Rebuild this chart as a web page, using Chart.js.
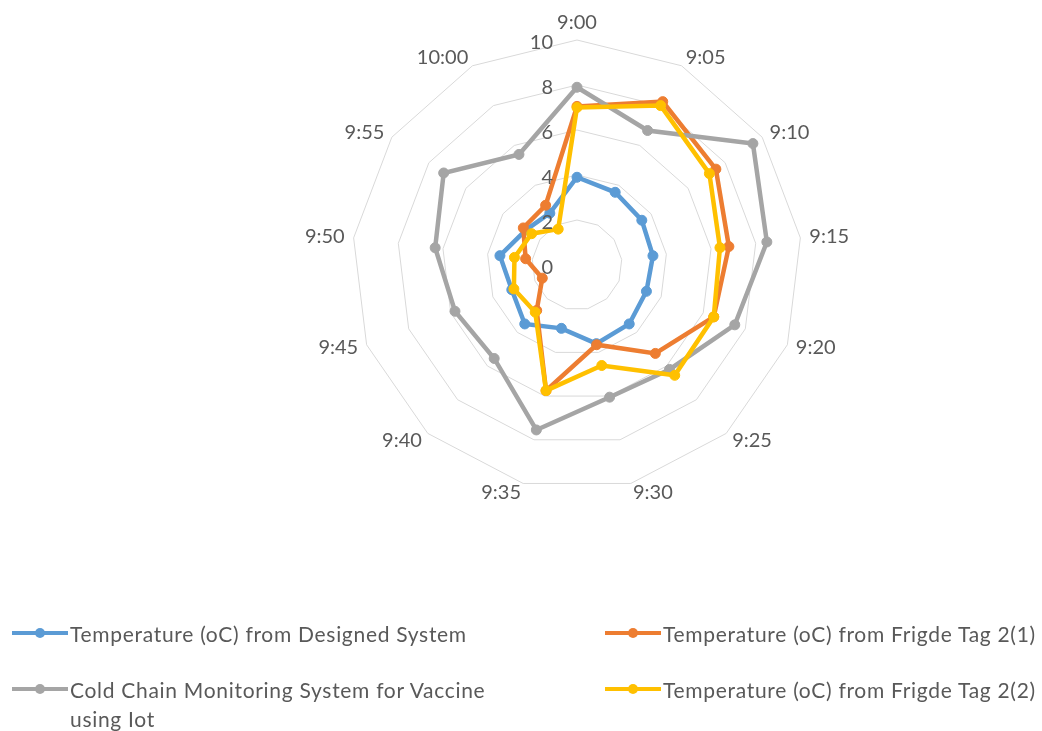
<!DOCTYPE html>
<html>
<head>
<meta charset="utf-8">
<script src="https://cdn.jsdelivr.net/npm/chart.js@4.4.0/dist/chart.umd.min.js"></script>
<style>
  body { margin: 0; background: #fff; }
  #wrap { position: relative; width: 1042px; height: 731px; overflow: hidden; }
  #chart { position: absolute; left: 0; top: 0; }
  .leg { position: absolute; font-family: Lato, sans-serif; font-size: 21px; letter-spacing: 0.7px; color: #595959; line-height: 29px; }
  .leg .mk { position: absolute; left: 0; top: 12px; width: 56px; height: 4px; }
  .leg .dot { position: absolute; left: 23px; top: 9px; width: 10px; height: 10px; border-radius: 50%; }
  .leg .tx { position: absolute; left: 58px; top: 0; white-space: nowrap; }
</style>
</head>
<body>
<div id="wrap">
  <canvas id="chart" width="1042" height="731"></canvas>
  <div id="legend"></div>
</div>
<script>
const labels = ["9:00","9:05","9:10","9:15","9:20","9:25","9:30","9:35","9:40","9:45","9:50","9:55","10:00"];

const designedSystem = [3.9, 3.65, 3.5, 3.4, 3.3, 3.5, 3.6, 2.9, 3.5, 3.1, 3.45, 2.75, 2.6];
const fridgeTag1 = [7.05, 8.2, 7.5, 6.8, 6.5, 5.25, 3.65, 5.75, 2.7, 1.65, 2.3, 2.9, 3.0];
const coldChain = [7.9, 6.75, 9.5, 8.5, 7.5, 6.2, 6.05, 7.55, 5.55, 5.8, 6.35, 7.2, 5.55];
const fridgeTag2 = [7.0, 8.0, 7.15, 6.4, 6.5, 6.55, 4.6, 5.75, 2.8, 3.0, 2.8, 2.45, 1.8];

const tickValues = [0, 2, 4, 6, 8, 10];

const seriesNames = [
  "Temperature (oC) from Designed System",
  "Temperature (oC) from Frigde Tag 2(1)",
  "Cold Chain Monitoring System for Vaccine<br>using Iot",
  "Temperature (oC) from Frigde Tag 2(2)"
];
const colors = ["#5B9BD5", "#ED7D31", "#A5A5A5", "#FFC000"];

function series(data, i, order) {
  return {
    label: seriesNames[i].replace("<br>", " "),
    data: data,
    borderColor: colors[i],
    backgroundColor: colors[i],
    pointBackgroundColor: colors[i],
    pointBorderColor: colors[i],
    borderWidth: 4.5,
    pointRadius: 5,
    pointBorderWidth: 1,
    fill: false,
    tension: 0,
    order: order
  };
}

// tick numbers left of the vertical axis and Excel-style category labels
const axisText = {
  id: "axisText",
  afterDatasetsDraw(chart) {
    const s = chart.scales.r;
    const ctx = chart.ctx;
    ctx.save();
    ctx.font = "20px Lato";
    ctx.fillStyle = "#595959";
    ctx.textAlign = "right";
    ctx.textBaseline = "middle";
    tickValues.forEach(v => {
      const y = s.yCenter - s.getDistanceFromCenterForValue(v);
      ctx.fillText(String(v), s.xCenter - 24, y + 3);
    });

    labels.forEach((lab, i) => {
      const p = s.getPointPosition(i, s.drawingArea + 9);
      const dx = p.x - s.xCenter;
      if (Math.abs(dx) < 1) {
        ctx.textAlign = "center";
        ctx.textBaseline = "bottom";
        ctx.fillText(lab, p.x, p.y + 2);
      } else {
        ctx.textAlign = dx > 0 ? "left" : "right";
        ctx.textBaseline = "middle";
        ctx.fillText(lab, p.x, p.y);
      }
    });
    ctx.restore();
  }
};

new Chart(document.getElementById("chart").getContext("2d"), {
  type: "radar",
  data: {
    labels,
    datasets: [
      series(designedSystem, 0, 3),
      series(fridgeTag1, 1, 2),
      series(coldChain, 2, 1),
      series(fridgeTag2, 3, 0)
    ]
  },
  options: {
    responsive: false,
    animation: false,
    layout: { padding: { left: 352, right: 240, top: 40, bottom: 241 } },
    plugins: { legend: { display: false }, tooltip: { enabled: false } },
    scales: {
      r: {
        min: 0,
        max: 10,
        ticks: { stepSize: 2, display: false },
        grid: { color: "#D9D9D9", lineWidth: 1 },
        angleLines: { display: false },
        pointLabels: { display: false }
      }
    }
  },
  plugins: [axisText]
});

// legend, two columns like the original
const legendPos = [[12, 619], [605, 619], [12, 675], [605, 675]];
const legend = document.getElementById("legend");
seriesNames.forEach((name, i) => {
  const d = document.createElement("div");
  d.className = "leg";
  d.style.left = legendPos[i][0] + "px";
  d.style.top = legendPos[i][1] + "px";
  d.innerHTML = '<div class="mk" style="background:' + colors[i] + '"></div>' +
    '<div class="dot" style="background:' + colors[i] + '"></div>' +
    '<div class="tx">' + name + '</div>';
  legend.appendChild(d);
});
</script>
</body>
</html>
